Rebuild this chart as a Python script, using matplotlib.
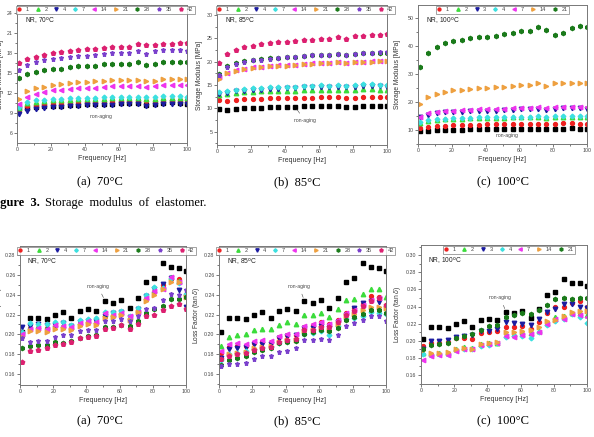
import matplotlib.pyplot as plt
from matplotlib.ticker import MultipleLocator

plt.rcParams['font.family'] = ['Liberation Sans', 'DejaVu Sans']

# frequency points [Hz]
freq = [1, 6, 11, 16, 21, 26, 31, 36, 41, 46, 51, 56, 61, 66, 71, 76, 81, 86, 91, 96, 100]

ages_ab = ['1', '2', '4', '7', '14', '21', '28', '35', '42']
ages_c = ['1', '2', '3', '4', '7', '14', '21']

# non-aging reference (black squares)
nonaging_storage = [9.8, 9.7, 9.85, 10.0, 10.1, 10.1, 10.2, 10.25, 10.3, 10.3, 10.4, 10.4, 10.5, 10.45, 10.45,
                    10.25, 10.3, 10.55, 10.6, 10.5, 10.4]
nonaging_loss = [0.202, 0.216, 0.216, 0.215, 0.220, 0.223, 0.216, 0.224, 0.226, 0.224, 0.234, 0.232, 0.235,
                 0.227, 0.237, 0.253, 0.257, 0.272, 0.268, 0.267, 0.264]

# storage modulus [MPa], 70 C, rows follow ages_ab
storage_70 = [
    [9.4, 10.0, 10.2, 10.35, 10.45, 10.5, 10.6, 10.65, 10.65, 10.7, 10.8, 10.85, 10.85, 10.85, 10.9, 10.75, 10.8, 10.95, 10.95, 10.9, 10.9],
    [9.8, 10.5, 10.7, 10.8, 10.9, 10.9, 11.0, 11.05, 11.05, 11.1, 11.15, 11.2, 11.2, 11.2, 11.2, 11.1, 11.15, 11.3, 11.3, 11.25, 11.2],
    [8.9, 9.4, 9.6, 9.8, 9.9, 9.9, 10.1, 10.1, 10.15, 10.15, 10.25, 10.25, 10.3, 10.3, 10.3, 10.1, 10.15, 10.35, 10.4, 10.35, 10.3],
    [9.9, 10.65, 10.9, 11.0, 11.1, 11.1, 11.2, 11.25, 11.3, 11.3, 11.4, 11.45, 11.45, 11.45, 11.45, 11.35, 11.4, 11.55, 11.55, 11.5, 11.4],
    [10.4, 11.4, 11.9, 12.15, 12.4, 12.5, 12.6, 12.7, 12.75, 12.75, 12.9, 13.0, 13.0, 13.1, 13.1, 12.9, 13.0, 13.2, 13.2, 13.15, 13.15],
    [11.15, 12.3, 12.8, 12.9, 13.15, 13.3, 13.5, 13.65, 13.7, 13.75, 13.85, 13.9, 13.9, 13.95, 14.0, 13.85, 13.85, 14.1, 14.15, 14.15, 14.1],
    [14.25, 14.8, 15.15, 15.4, 15.65, 15.65, 15.9, 16.0, 16.1, 16.1, 16.3, 16.4, 16.4, 16.4, 16.6, 16.2, 16.4, 16.7, 16.7, 16.65, 16.6],
    [15.5, 16.25, 16.65, 17.0, 17.15, 17.25, 17.4, 17.5, 17.6, 17.65, 17.9, 18.0, 18.05, 18.05, 18.3, 17.9, 18.25, 18.4, 18.45, 18.4, 18.35],
    [16.55, 17.05, 17.4, 17.75, 18.05, 18.15, 18.35, 18.45, 18.55, 18.6, 18.8, 18.85, 18.95, 18.9, 19.3, 19.15, 19.15, 19.3, 19.4, 19.5, 19.45],
]

# storage modulus [MPa], 85 C
storage_85 = [
    [11.8, 11.6, 11.8, 11.9, 12.0, 12.0, 12.1, 12.1, 12.2, 12.2, 12.3, 12.3, 12.4, 12.4, 12.4, 12.2, 12.3, 12.5, 12.5, 12.4, 12.4],
    [12.8, 13.0, 13.2, 13.4, 13.5, 13.6, 13.7, 13.7, 13.8, 13.8, 13.9, 13.9, 14.0, 14.0, 14.0, 13.9, 14.0, 14.1, 14.1, 14.0, 14.0],
    [13.0, 13.3, 13.6, 13.8, 14.0, 14.0, 14.1, 14.2, 14.3, 14.3, 14.5, 14.5, 14.6, 14.5, 14.6, 14.5, 14.6, 14.8, 14.8, 14.7, 14.6],
    [13.4, 13.6, 13.9, 14.1, 14.3, 14.3, 14.5, 14.5, 14.6, 14.6, 14.8, 14.8, 14.9, 14.8, 14.9, 14.8, 14.9, 15.2, 15.1, 15.0, 15.0],
    [16.8, 17.6, 18.1, 18.5, 18.8, 18.9, 19.1, 19.2, 19.3, 19.3, 19.5, 19.6, 19.7, 19.7, 19.9, 19.7, 19.9, 20.0, 20.1, 20.1, 20.2],
    [16.2, 17.5, 18.0, 18.4, 18.7, 18.8, 19.0, 19.1, 19.1, 19.2, 19.4, 19.5, 19.6, 19.6, 19.9, 19.6, 19.9, 20.0, 20.0, 20.1, 20.1],
    [17.4, 19.0, 19.6, 20.1, 20.3, 20.5, 20.7, 20.8, 20.9, 21.0, 21.2, 21.3, 21.4, 21.3, 21.6, 21.3, 21.6, 21.8, 21.9, 21.9, 21.9],
    [17.2, 18.9, 19.5, 20.0, 20.3, 20.4, 20.6, 20.8, 20.9, 21.0, 21.2, 21.3, 21.4, 21.4, 21.7, 21.4, 21.7, 21.8, 21.9, 22.0, 22.0],
    [19.6, 21.7, 22.5, 23.1, 23.4, 23.7, 24.0, 24.1, 24.2, 24.3, 24.6, 24.7, 24.8, 24.8, 25.3, 24.9, 25.4, 25.5, 25.6, 25.7, 25.8],
]

# storage modulus [MPa], 100 C, rows follow ages_c
storage_100 = [
    [10.8, 11.0, 11.4, 11.6, 11.7, 11.8, 11.9, 11.9, 12.0, 12.0, 12.1, 12.1, 12.2, 12.2, 12.3, 12.1, 12.2, 12.4, 12.4, 12.3, 12.3],
    [12.5, 13.2, 13.6, 13.8, 14.0, 14.0, 14.2, 14.2, 14.3, 14.3, 14.4, 14.5, 14.5, 14.5, 14.6, 14.4, 14.5, 14.7, 14.7, 14.6, 14.5],
    [14.5, 15.4, 16.0, 16.3, 16.5, 16.6, 16.8, 16.9, 17.0, 17.0, 17.2, 17.3, 17.4, 17.4, 17.6, 17.3, 17.5, 17.8, 17.8, 17.8, 17.7],
    [12.9, 13.5, 13.8, 14.0, 14.2, 14.3, 14.4, 14.5, 14.5, 14.5, 14.7, 14.8, 14.8, 14.8, 15.0, 14.8, 14.9, 15.1, 15.1, 15.0, 14.9],
    [14.8, 16.0, 16.5, 16.9, 17.0, 17.1, 17.3, 17.4, 17.5, 17.5, 17.7, 17.8, 17.9, 17.9, 18.2, 17.9, 18.1, 18.4, 18.4, 18.4, 18.3],
    [19.4, 22.0, 23.0, 23.8, 24.2, 24.5, 24.8, 25.0, 25.2, 25.3, 25.6, 25.8, 26.0, 26.0, 26.7, 25.9, 26.7, 26.7, 26.9, 27.0, 27.0],
    [32.5, 37.7, 39.6, 41.1, 41.8, 42.3, 43.0, 43.3, 43.5, 43.8, 44.3, 44.8, 45.4, 45.5, 46.9, 45.9, 44.2, 44.8, 46.6, 47.4, 46.8],
]

# loss factor (tan d), 70 C
loss_70 = [
    [0.199, 0.206, 0.206, 0.206, 0.208, 0.207, 0.206, 0.210, 0.211, 0.211, 0.218, 0.218, 0.221, 0.215, 0.224, 0.236, 0.243, 0.250, 0.256, 0.256, 0.240],
    [0.200, 0.207, 0.208, 0.207, 0.210, 0.209, 0.207, 0.212, 0.214, 0.213, 0.221, 0.221, 0.223, 0.217, 0.225, 0.238, 0.245, 0.248, 0.258, 0.254, 0.242],
    [0.207, 0.2085, 0.210, 0.209, 0.209, 0.211, 0.208, 0.212, 0.213, 0.213, 0.219, 0.222, 0.223, 0.217, 0.226, 0.239, 0.246, 0.251, 0.257, 0.245, 0.228],
    [0.202, 0.211, 0.210, 0.210, 0.212, 0.212, 0.209, 0.214, 0.215, 0.216, 0.223, 0.223, 0.224, 0.218, 0.227, 0.240, 0.248, 0.247, 0.257, 0.252, 0.241],
    [0.200, 0.205, 0.206, 0.205, 0.209, 0.208, 0.207, 0.211, 0.213, 0.212, 0.222, 0.220, 0.222, 0.219, 0.223, 0.237, 0.244, 0.246, 0.258, 0.253, 0.239],
    [0.197, 0.203, 0.203, 0.202, 0.205, 0.205, 0.204, 0.208, 0.210, 0.209, 0.216, 0.217, 0.220, 0.214, 0.223, 0.234, 0.240, 0.246, 0.253, 0.253, 0.238],
    [0.186, 0.188, 0.189, 0.189, 0.192, 0.191, 0.193, 0.196, 0.198, 0.199, 0.207, 0.207, 0.209, 0.208, 0.213, 0.222, 0.226, 0.229, 0.236, 0.236, 0.238],
    [0.196, 0.192, 0.193, 0.193, 0.197, 0.199, 0.199, 0.203, 0.204, 0.204, 0.213, 0.213, 0.215, 0.213, 0.219, 0.226, 0.227, 0.235, 0.241, 0.240, 0.245],
    [0.172, 0.183, 0.184, 0.186, 0.189, 0.190, 0.192, 0.196, 0.197, 0.198, 0.205, 0.206, 0.209, 0.205, 0.210, 0.218, 0.220, 0.225, 0.229, 0.231, 0.226],
]

# loss factor (tan d), 85 C
loss_85 = [
    [0.181, 0.187, 0.188, 0.188, 0.191, 0.192, 0.192, 0.197, 0.199, 0.199, 0.207, 0.209, 0.212, 0.210, 0.214, 0.222, 0.227, 0.231, 0.239, 0.238, 0.230],
    [0.188, 0.197, 0.199, 0.200, 0.204, 0.205, 0.205, 0.209, 0.212, 0.210, 0.220, 0.220, 0.222, 0.217, 0.226, 0.235, 0.236, 0.241, 0.246, 0.246, 0.238],
    [0.176, 0.185, 0.186, 0.187, 0.190, 0.190, 0.190, 0.196, 0.198, 0.199, 0.206, 0.206, 0.208, 0.206, 0.212, 0.220, 0.227, 0.232, 0.234, 0.233, 0.227],
    [0.174, 0.180, 0.181, 0.183, 0.185, 0.186, 0.187, 0.191, 0.193, 0.194, 0.200, 0.201, 0.203, 0.199, 0.208, 0.215, 0.216, 0.219, 0.223, 0.222, 0.221],
    [0.183, 0.190, 0.191, 0.190, 0.193, 0.194, 0.193, 0.198, 0.200, 0.200, 0.208, 0.210, 0.212, 0.210, 0.214, 0.222, 0.225, 0.230, 0.235, 0.237, 0.229],
    [0.175, 0.180, 0.181, 0.182, 0.186, 0.187, 0.188, 0.192, 0.194, 0.194, 0.203, 0.204, 0.206, 0.204, 0.210, 0.218, 0.221, 0.225, 0.228, 0.228, 0.227],
    [0.169, 0.174, 0.176, 0.178, 0.182, 0.184, 0.186, 0.191, 0.192, 0.193, 0.200, 0.202, 0.204, 0.203, 0.206, 0.214, 0.217, 0.221, 0.225, 0.225, 0.222],
    [0.168, 0.170, 0.170, 0.171, 0.175, 0.178, 0.178, 0.182, 0.183, 0.186, 0.194, 0.194, 0.195, 0.194, 0.199, 0.208, 0.211, 0.214, 0.219, 0.219, 0.213],
    [0.175, 0.178, 0.180, 0.181, 0.184, 0.186, 0.187, 0.192, 0.194, 0.195, 0.204, 0.204, 0.207, 0.207, 0.212, 0.220, 0.224, 0.229, 0.234, 0.237, 0.230],
]

# loss factor (tan d), 100 C, rows follow ages_c
loss_100 = [
    [0.194, 0.198, 0.198, 0.199, 0.203, 0.203, 0.202, 0.209, 0.210, 0.211, 0.216, 0.216, 0.217, 0.214, 0.222, 0.233, 0.239, 0.240, 0.244, 0.246, 0.240],
    [0.186, 0.185, 0.186, 0.186, 0.191, 0.193, 0.192, 0.196, 0.197, 0.198, 0.207, 0.208, 0.210, 0.209, 0.212, 0.221, 0.228, 0.229, 0.233, 0.232, 0.230],
    [0.190, 0.200, 0.200, 0.201, 0.205, 0.206, 0.207, 0.211, 0.212, 0.214, 0.222, 0.221, 0.220, 0.219, 0.225, 0.234, 0.237, 0.243, 0.243, 0.239, 0.238],
    [0.185, 0.183, 0.184, 0.185, 0.189, 0.190, 0.190, 0.194, 0.195, 0.197, 0.205, 0.206, 0.206, 0.203, 0.210, 0.219, 0.223, 0.226, 0.231, 0.228, 0.221],
    [0.178, 0.182, 0.183, 0.183, 0.188, 0.190, 0.191, 0.195, 0.196, 0.198, 0.206, 0.205, 0.207, 0.208, 0.210, 0.220, 0.225, 0.225, 0.231, 0.230, 0.228],
    [0.189, 0.186, 0.186, 0.187, 0.190, 0.192, 0.191, 0.196, 0.197, 0.199, 0.210, 0.210, 0.212, 0.213, 0.216, 0.223, 0.224, 0.229, 0.234, 0.235, 0.235],
    [0.191, 0.195, 0.196, 0.197, 0.203, 0.206, 0.208, 0.213, 0.217, 0.219, 0.228, 0.230, 0.232, 0.231, 0.236, 0.242, 0.249, 0.250, 0.249, 0.250, 0.250],
]

# Origin-like symbol sequence
colors = ['#ee2020', '#3cdc3c', '#1c1ca0', '#3ce0e0', '#ee34ee', '#eea040', '#1a7a1a', '#7a40cc', '#dc2070']
markers = ['o', '^', 'v', 'D', '<', '>', 'h', '*', 'p']
msizes = [2.8, 3.2, 3.2, 2.4, 3.2, 3.2, 3.0, 3.6, 3.2]

W, H = 594, 437
fig = plt.figure(figsize=(W / 100, H / 100), dpi=100)


def px_rect(x0, x1, y0, y1):
    return [x0 / W, 1 - y1 / H, (x1 - x0) / W, (y1 - y0) / H]


def panel(rect, series, labels, nonaging, ylim, ystep, ylabel, label_x, tag, note_xy, arrow_xy,
          yfmt, leg_anchor):
    ax = fig.add_axes(rect)
    ax.plot(freq, nonaging, ls='none', marker='s', ms=3.0, color='black', mec='black')
    for i, (lab, vals) in enumerate(zip(labels, series)):
        ax.plot(freq, vals, ls='none', marker=markers[i], ms=msizes[i], color=colors[i],
                mec=colors[i], label=lab)
    ax.set_xlim(0, 100)
    ax.set_ylim(*ylim)
    ax.xaxis.set_major_locator(MultipleLocator(20))
    ax.xaxis.set_minor_locator(MultipleLocator(10))
    ax.yaxis.set_major_locator(MultipleLocator(ystep))
    ax.yaxis.set_minor_locator(MultipleLocator(ystep / 2))
    ax.yaxis.set_major_formatter(yfmt)
    ax.tick_params(which='both', direction='out', colors='#444444', labelsize=3.8, width=0.5,
                   top=False, right=False, pad=1.2)
    ax.tick_params(which='major', length=2.0)
    ax.tick_params(which='minor', length=1.1)
    for s in ax.spines.values():
        s.set_color('#777777')
        s.set_linewidth(0.7)
    ax.set_xlabel('Frequency [Hz]', fontsize=5, color='#333333', labelpad=2)
    ax.set_ylabel(ylabel, fontsize=4.8, color='#333333')
    ax.yaxis.set_label_coords(label_x, 0.5)
    ax.text(0.045, 0.87, tag, transform=ax.transAxes, fontsize=4.8, color='#222222')
    leg = ax.legend(loc='upper center', bbox_to_anchor=leg_anchor, ncol=len(labels), fontsize=4,
                    handlelength=0.6, handletextpad=0.9, columnspacing=1.3, borderpad=0.25,
                    borderaxespad=0.15, frameon=True, fancybox=False, markerscale=0.75)
    leg.get_frame().set_edgecolor('#777777')
    leg.get_frame().set_linewidth(0.6)
    for t in leg.get_texts():
        t.set_color('#444444')
    if arrow_xy is None:
        ax.text(note_xy[0], note_xy[1], 'non-aging', fontsize=3.6, color='#444444')
    else:
        ax.annotate('non-aging', xy=arrow_xy, xytext=note_xy, fontsize=3.6, color='#444444',
                    arrowprops=dict(arrowstyle='-', color='#444444', lw=0.4))
    return ax


f_int = '{x:.0f}'
f_two = '{x:.2f}'

panel(px_rect(17, 187, 5, 143), storage_70, ages_ab, nonaging_storage, (4.55, 25.15), 3,
      'Storage Modulus [MPa]', -0.075, r'NR, 70$^{\mathrm{o}}$C', (43, 8.3), (46, 10.2), f_int, (0.52, 1))
panel(px_rect(217, 387, 5, 145), storage_85, ages_ab, nonaging_storage, (2.15, 32.1), 5,
      'Storage Modulus [MPa]', -0.082, r'NR, 85$^{\mathrm{o}}$C', (45, 7.0), (46, 10.3), f_int, (0.52, 1))
panel(px_rect(418, 587, 5, 144), storage_100, ages_c, nonaging_storage, (5.0, 54.8), 10,
      'Storage Modulus [MPa]', -0.10, r'NR, 100$^{\mathrm{o}}$C', (46, 7.6), None, f_int, (0.5, 1))
panel(px_rect(20, 186, 246, 385), loss_70, ages_ab, nonaging_loss, (0.149, 0.289), 0.02,
      r'Loss Factor (tan $\delta$)', -0.095, r'NR, 70$^{\mathrm{o}}$C', (40, 0.247), (51, 0.2345), f_two, (0.52, 1))
panel(px_rect(219, 386, 246, 385), loss_85, ages_ab, nonaging_loss, (0.149, 0.289), 0.02,
      r'Loss Factor (tan $\delta$)', -0.10, r'NR, 85$^{\mathrm{o}}$C', (41, 0.247), (51, 0.2345), f_two, (0.52, 1))
panel(px_rect(421, 587, 245, 384), loss_100, ages_c, nonaging_loss, (0.1495, 0.312), 0.02,
      r'Loss Factor (tan $\delta$)', -0.108, r'NR, 100$^{\mathrm{o}}$C', (41, 0.249), (51, 0.2345), f_two, (0.53, 1))

serif = ['Liberation Serif', 'DejaVu Serif']
for cx, cap in [(100, '(a)  70°C'), (297, '(b)  85°C'), (503, '(c)  100°C')]:
    fig.text(cx / W, 1 - 182 / H, cap, ha='center', va='center', fontsize=9, family=serif)
    fig.text(cx / W, 1 - 421 / H, cap, ha='center', va='center', fontsize=9, family=serif)

fig.text(-11 / W, 1 - 203 / H, 'Figure  3.', ha='left', va='center', fontsize=9, family=serif,
         fontweight='bold')
fig.text(45 / W, 1 - 203 / H, 'Storage  modulus  of  elastomer.', ha='left', va='center',
         fontsize=9, family=serif)

fig.savefig('out.png', dpi=100)
